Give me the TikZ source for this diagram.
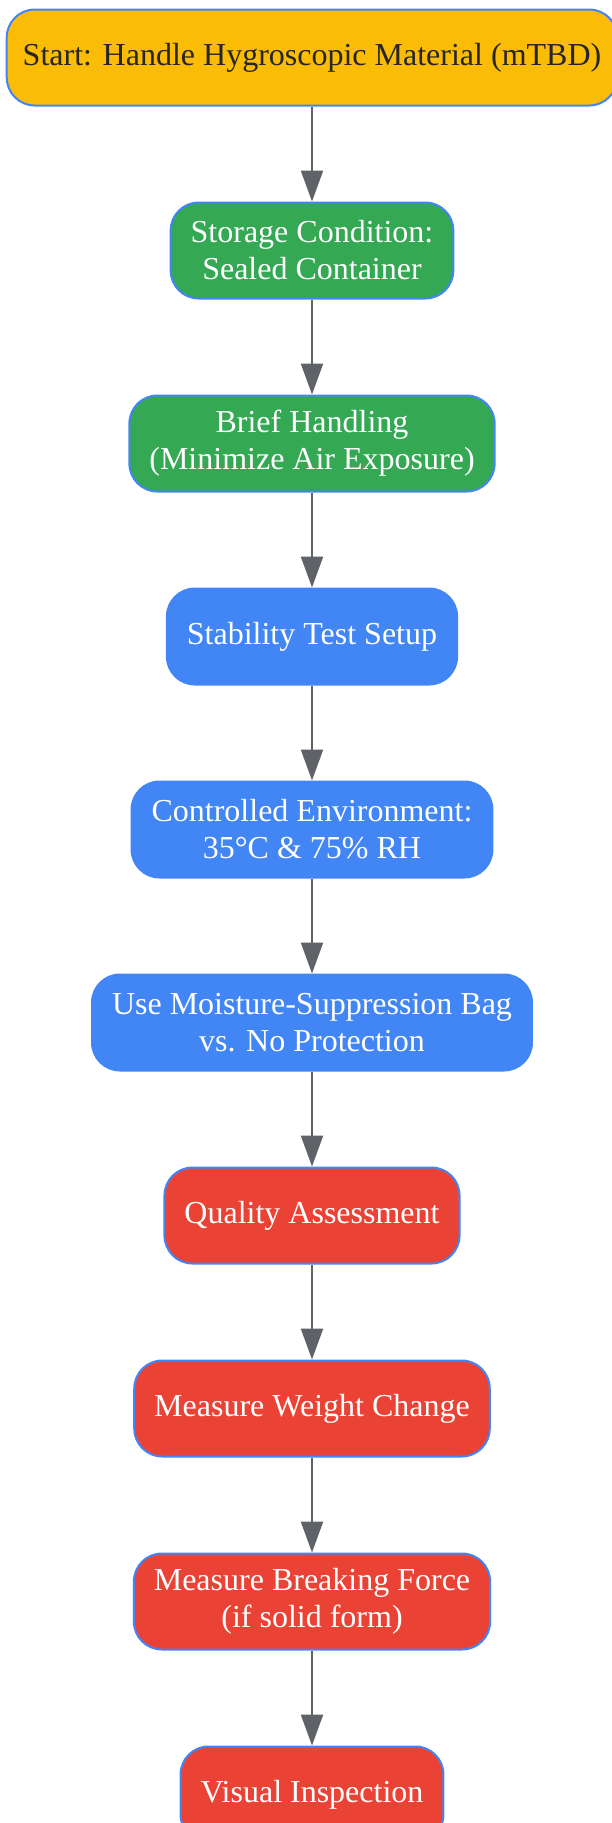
\documentclass[tikz,border=0pt]{standalone}
\usepackage{fontspec}
\setmainfont{Liberation Serif}
\usetikzlibrary{positioning, arrows.meta}
\definecolor{startyellow}{HTML}{FBBC05}
\definecolor{stepgreen}{HTML}{34A853}
\definecolor{stepblue}{HTML}{4285F4}
\definecolor{stepred}{HTML}{EA4335}
\definecolor{arrowgray}{HTML}{5F6368}
\definecolor{darktext}{HTML}{262626}
\tikzset{
  flowbox/.style={rectangle, rounded corners=28pt, draw=stepblue, line width=2pt,
    align=center, minimum height=96pt, inner xsep=20pt, inner ysep=4pt,
    text=white, font=\fontsize{32}{37}\selectfont},
  startbox/.style={flowbox, fill=startyellow, text=darktext, inner xsep=16pt},
  greenbox/.style={flowbox, fill=stepgreen},
  bluebox/.style={flowbox, fill=stepblue},
  redbox/.style={flowbox, fill=stepred},
  flowarrow/.style={draw=arrowgray, line width=2.3pt, -{Triangle[width=22pt, length=31pt]}},
}

\begin{document}
\begin{tikzpicture}[node distance=95pt]
\useasboundingbox (0pt,0pt) rectangle (612pt,-1823pt);
% Nodes
\node (start) [startbox] at (312pt,-57.5pt) {Start: Handle Hygroscopic Material (mTBD)};
\node (storage) [below=of start, greenbox] {Storage Condition:\\ Sealed Container};
\node (handling) [below=of storage, greenbox] {Brief Handling\\ (Minimize Air Exposure)};
\node (setup) [below=of handling, bluebox] {Stability Test Setup};
\node (environment) [below=of setup, bluebox] {Controlled Environment:\\ 35°C \& 75\% RH};
\node (bag) [below=of environment, bluebox] {Use Moisture-Suppression Bag\\ vs. No Protection};
\node (quality) [below=of bag, redbox] {Quality Assessment};
\node (weight) [below=of quality, redbox] {Measure Weight Change};
\node (force) [below=of weight, redbox] {Measure Breaking Force\\ (if solid form)};
\node (visual) [below=of force, redbox] {Visual Inspection};

% Connectors
\foreach \from/\to in {start/storage, storage/handling, handling/setup, setup/environment,
  environment/bag, bag/quality, quality/weight, weight/force, force/visual}
  \draw [flowarrow] (\from) -- (\to);

\end{tikzpicture}
\end{document}
